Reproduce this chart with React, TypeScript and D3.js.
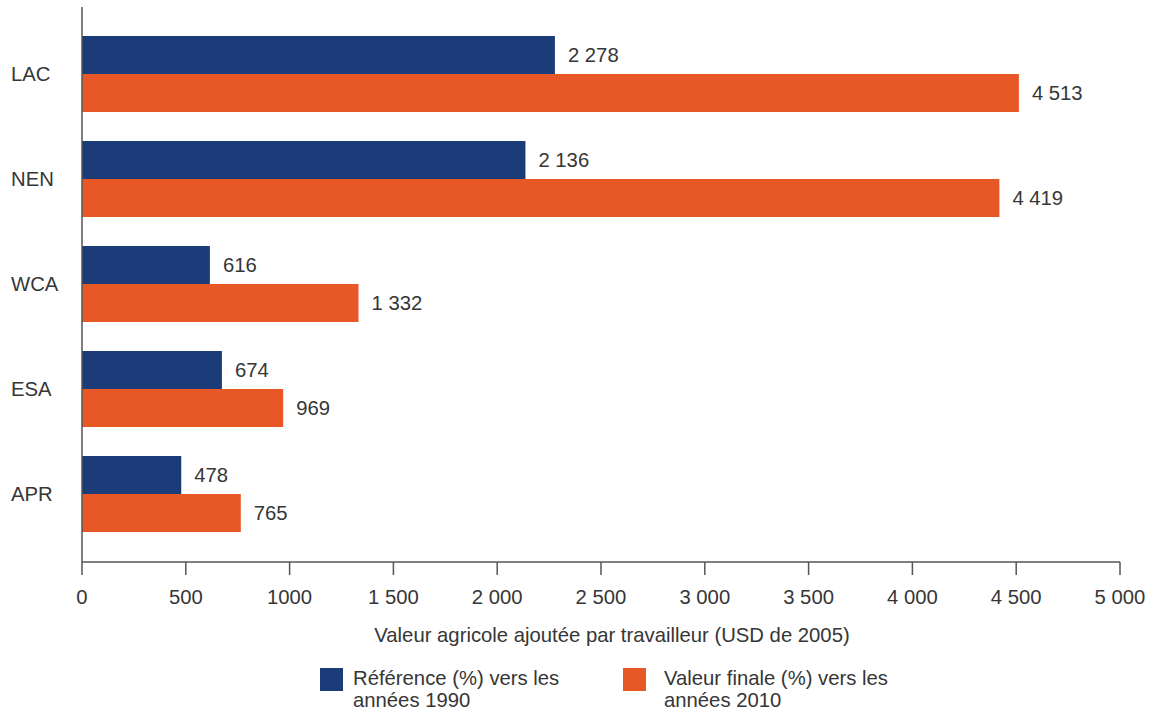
import React from "react";
import * as d3 from "d3";

const categories = ["LAC", "NEN", "WCA", "ESA", "APR"];
const ref1990 = [2278, 2136, 616, 674, 478];
const final2010 = [4513, 4419, 1332, 969, 765];
const valueLabels1990 = ["2 278", "2 136", "616", "674", "478"];
const valueLabels2010 = ["4 513", "4 419", "1 332", "969", "765"];
const tickValues = [0, 500, 1000, 1500, 2000, 2500, 3000, 3500, 4000, 4500, 5000];
const tickLabels = ["0", "500", "1000", "1 500", "2 000", "2 500", "3 000", "3 500", "4 000", "4 500", "5 000"];
const seriesNames = [
  ["Référence (%) vers les", "années 1990"],
  ["Valeur finale (%) vers les", "années 2010"],
];
const colors = ["#1b3c78", "#e85827"];
const xTitle = "Valeur agricole ajoutée par travailleur (USD de 2005)";

const W = 1160;
const H = 715;
const FONT = "'Liberation Sans', Arial, sans-serif";
const FS = 20.3;
const TXT = "#363636";
const AX = "#555555";

export default function App() {
  const x = d3.scaleLinear().domain([0, 5000]).range([82, 1120]);
  const y = d3
    .scaleBand<string>()
    .domain(categories)
    .range([21.5, 546.5])
    .paddingInner(0.2762)
    .paddingOuter(0.1381);
  const sub = d3
    .scaleBand<string>()
    .domain(["a", "b"])
    .range([0, y.bandwidth()]);
  const axisY = 562;
  const series = [ref1990, final2010];
  const labels = [valueLabels1990, valueLabels2010];
  const keys = ["a", "b"];
  const legendX = [320, 623];
  const legendTextX = [353, 664];

  return (
    <svg
      width={W}
      height={H}
      style={{ position: "absolute", left: 0, top: 0, background: "#fff" }}
      fontFamily={FONT}
    >
      {categories.map((c, i) => (
        <g key={c}>
          {series.map((s, k) => {
            const yy = (y(c) as number) + (sub(keys[k]) as number);
            return (
              <g key={k}>
                <rect
                  x={x(0)}
                  y={yy}
                  width={x(s[i]) - x(0)}
                  height={sub.bandwidth()}
                  fill={colors[k]}
                />
                <text
                  x={x(s[i]) + 13}
                  y={yy + sub.bandwidth() / 2 + 7}
                  fontSize={FS}
                  fill={TXT}
                >
                  {labels[k][i]}
                </text>
              </g>
            );
          })}
          <text
            x={11}
            y={(y(c) as number) + y.bandwidth() / 2 + 7}
            fontSize={FS}
            fill={TXT}
          >
            {c}
          </text>
        </g>
      ))}
      <line x1={x(0)} x2={x(0)} y1={7} y2={axisY} stroke={AX} strokeWidth={1.5} />
      <line x1={x(0)} x2={x(5000)} y1={axisY} y2={axisY} stroke={AX} strokeWidth={1.5} />
      {tickValues.map((t, i) => (
        <g key={t}>
          <line x1={x(t)} x2={x(t)} y1={axisY} y2={axisY + 13} stroke={AX} strokeWidth={1.5} />
          <text x={x(t)} y={604} textAnchor="middle" fontSize={FS} fill={TXT}>
            {tickLabels[i]}
          </text>
        </g>
      ))}
      <text x={612} y={642} textAnchor="middle" fontSize={FS} fill={TXT}>
        {xTitle}
      </text>
      {seriesNames.map((lines, k) => (
        <g key={k}>
          <rect x={legendX[k]} y={668} width={23} height={23} fill={colors[k]} />
          {lines.map((l, j) => (
            <text key={j} x={legendTextX[k]} y={685 + j * 22} fontSize={FS} fill={TXT}>
              {l}
            </text>
          ))}
        </g>
      ))}
    </svg>
  );
}
